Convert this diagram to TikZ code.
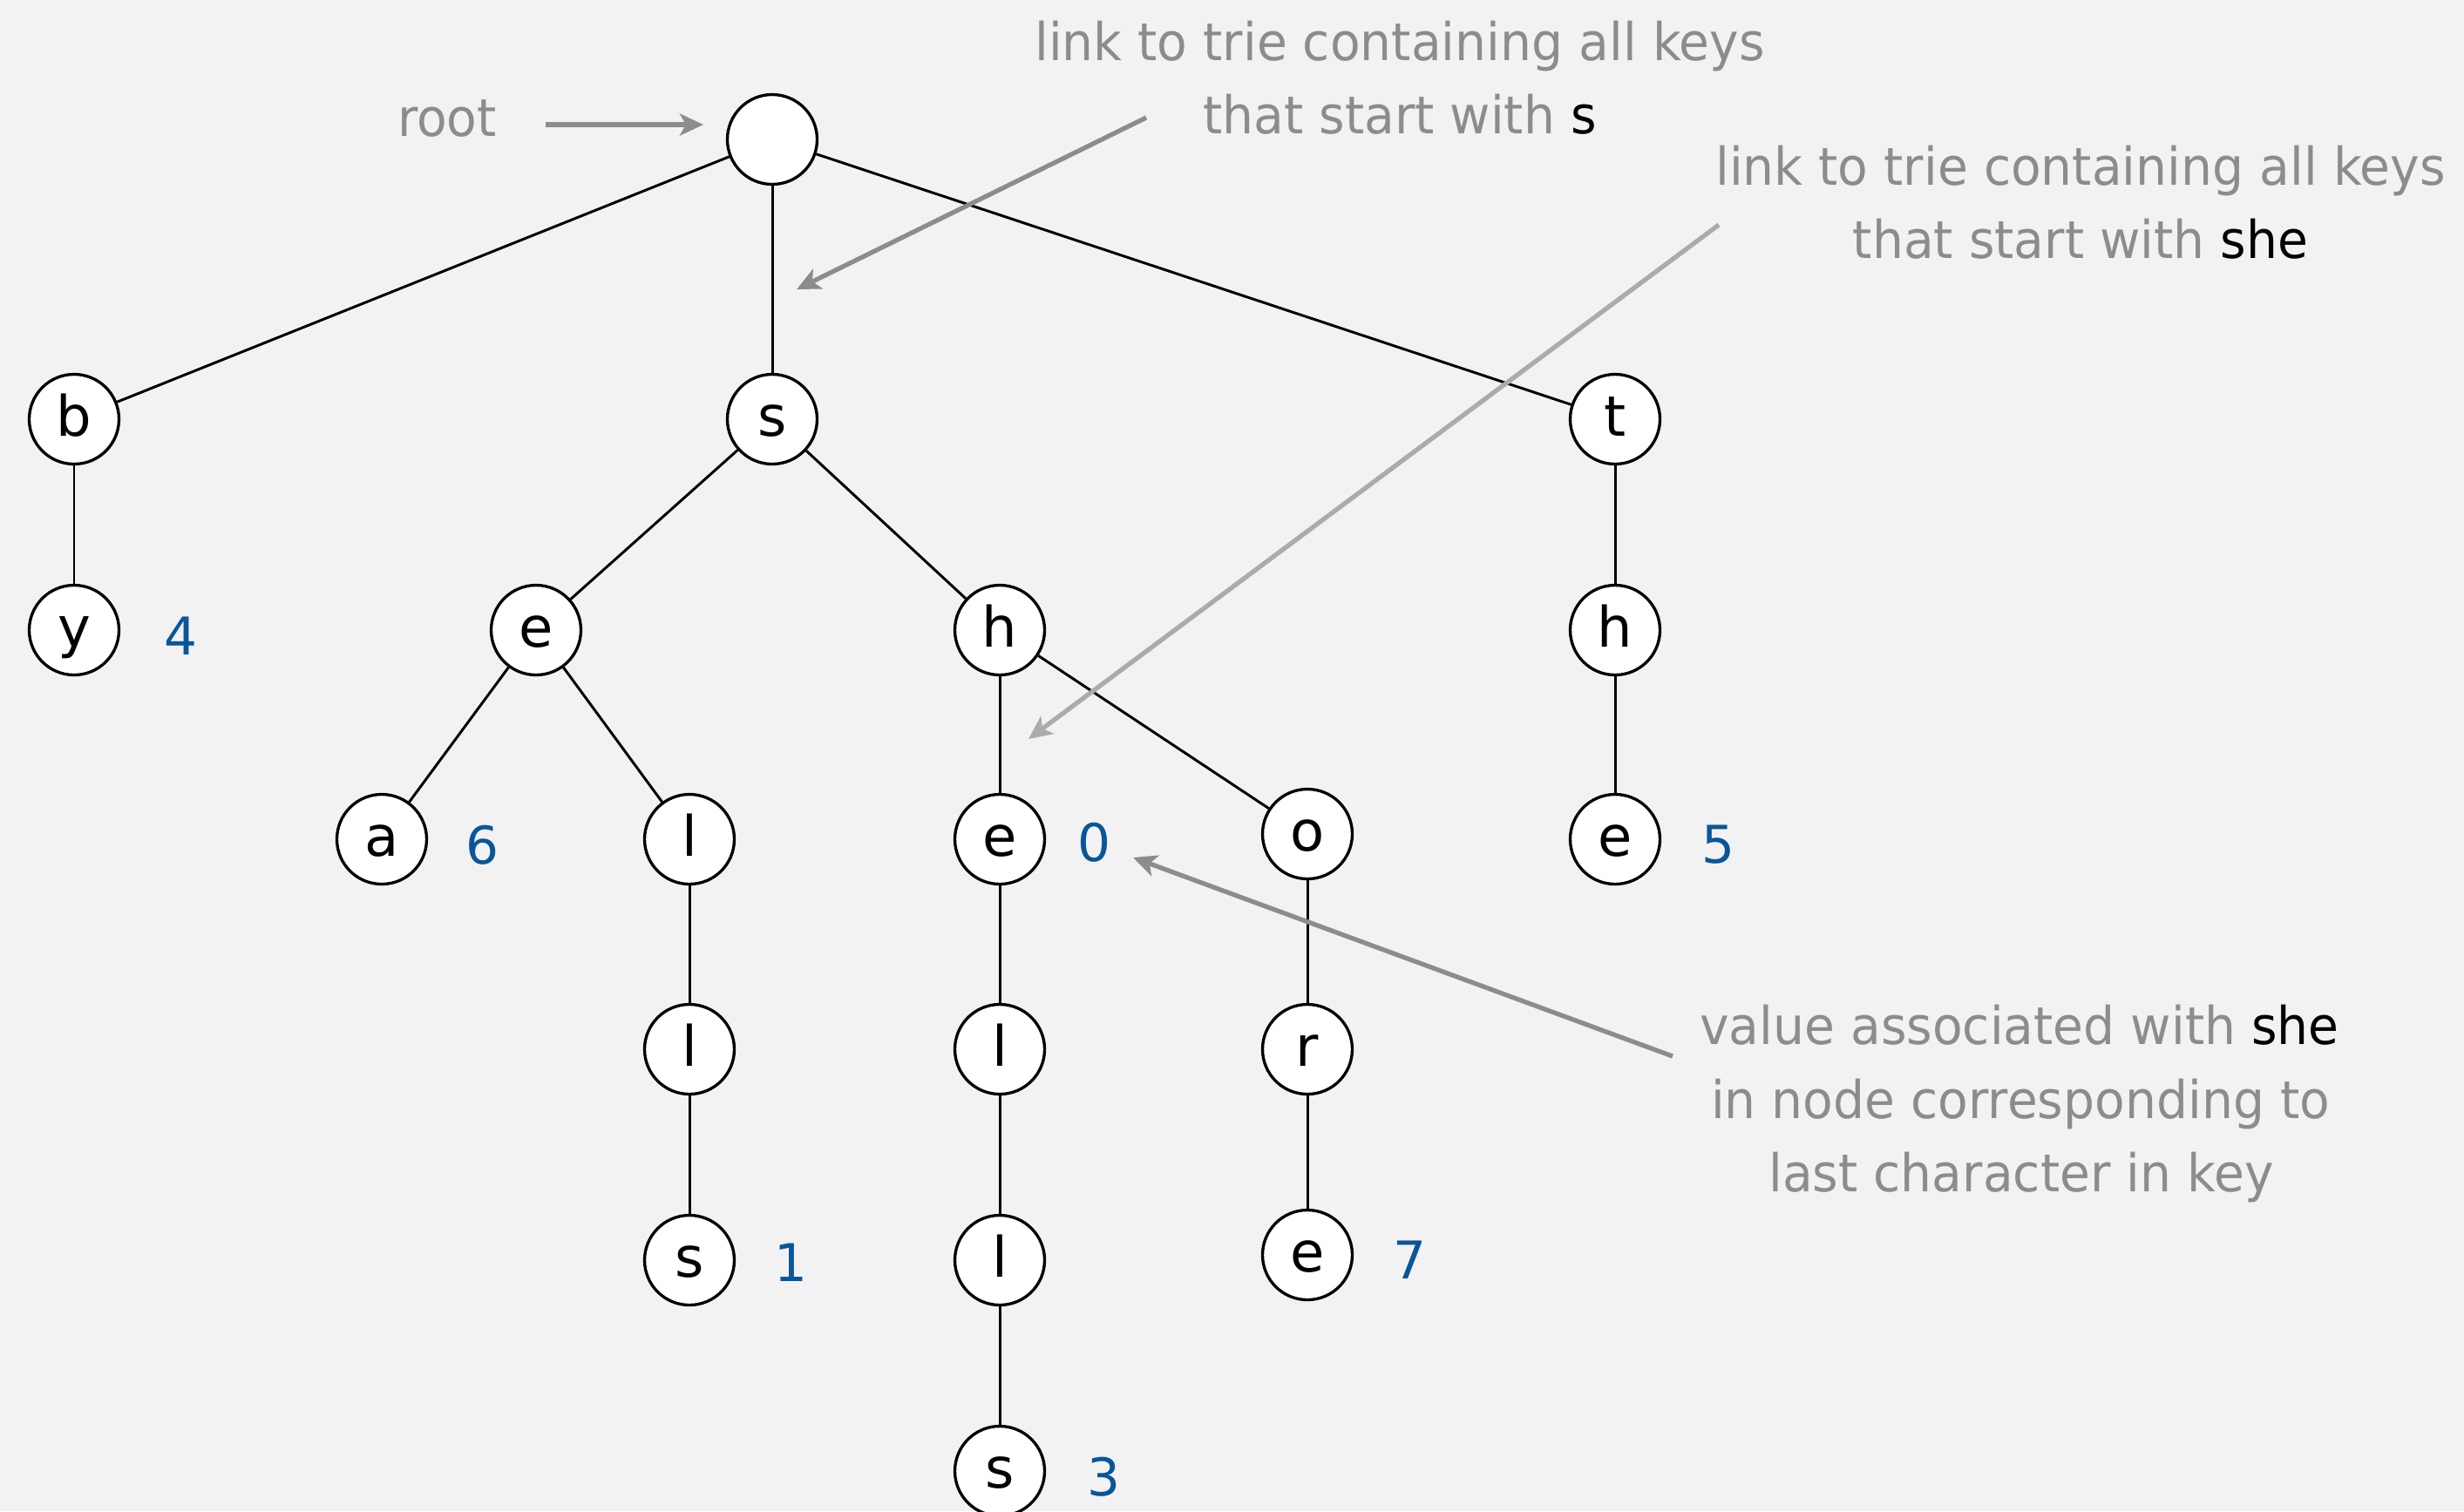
\documentclass[tikz,border=0pt]{standalone}
\usepackage{fontspec}
\setmainfont{DejaVu Sans}
\newfontfamily\annfont[FakeStretch=0.95]{DejaVu Sans}
\usetikzlibrary{arrows.meta}
\definecolor{bgcol}{HTML}{F2F2F2}
\definecolor{anngray}{HTML}{8C8C8C}
\definecolor{lightarrow}{HTML}{ABABAB}
\definecolor{valblue}{RGB}{8,86,152}
\begin{document}
\begin{tikzpicture}[x=1cm,y=1cm,
  trienode/.style={circle,draw=black,fill=white,line width=0.95pt,minimum size=1.03cm,inner sep=0pt,
    text height=0.48cm,text depth=0.10cm,font=\fontsize{18.2}{22}\selectfont},
  trieedge/.style={draw=black,line width=0.85pt},
  valtext/.style={anchor=base,inner sep=0pt,text=valblue,font=\fontsize{17}{20}\selectfont},
  anntext/.style={anchor=base,inner sep=0pt,text=anngray,font=\annfont\fontsize{17}{20}\selectfont},
  annarrow/.style={draw=anngray,line width=1.5pt,-{Stealth[length=0.27cm,width=0.25cm,inset=0.07cm]}},
  ]
\fill[bgcol] (0,0) rectangle (28.27,-17.34);
\useasboundingbox (0,0) rectangle (28.27,-17.34);

% tree nodes
\node[trienode] (root) at (8.86,-1.60) {};
\node[trienode] (b)  at (0.85,-4.81) {b};
\node[trienode] (s)  at (8.86,-4.81) {s};
\node[trienode] (t)  at (18.53,-4.81) {t};
\node[trienode] (y)  at (0.85,-7.23) {y};
\node[trienode] (se) at (6.15,-7.23) {e};
\node[trienode] (sh) at (11.47,-7.23) {h};
\node[trienode] (th) at (18.53,-7.23) {h};
\node[trienode] (sea) at (4.38,-9.63) {a};
\node[trienode] (sel) at (7.91,-9.63) {l};
\node[trienode] (she) at (11.47,-9.63) {e};
\node[trienode] (sho) at (15.00,-9.57) {o};
\node[trienode] (the) at (18.53,-9.63) {e};
\node[trienode] (sell) at (7.91,-12.04) {l};
\node[trienode] (shel) at (11.47,-12.04) {l};
\node[trienode] (shor) at (15.00,-12.04) {r};
\node[trienode] (sells) at (7.91,-14.46) {s};
\node[trienode] (shell) at (11.47,-14.46) {l};
\node[trienode] (shore) at (15.00,-14.40) {e};
\node[trienode] (shells) at (11.47,-16.88) {s};

% tree links
\draw[trieedge] (root) -- (b);
\draw[trieedge] (root) -- (s);
\draw[trieedge] (root) -- (t);
\draw[trieedge] (b) -- (y);
\draw[trieedge] (s) -- (se);
\draw[trieedge] (s) -- (sh);
\draw[trieedge] (t) -- (th);
\draw[trieedge] (th) -- (the);
\draw[trieedge] (se) -- (sea);
\draw[trieedge] (se) -- (sel);
\draw[trieedge] (sel) -- (sell);
\draw[trieedge] (sell) -- (sells);
\draw[trieedge] (sh) -- (she);
\draw[trieedge] (sh) -- (sho);
\draw[trieedge] (she) -- (shel);
\draw[trieedge] (shel) -- (shell);
\draw[trieedge] (shell) -- (shells);
\draw[trieedge] (sho) -- (shor);
\draw[trieedge] (shor) -- (shore);

% values
\node[valtext] (v4) at (2.08,-7.51) {4};
\node[valtext] (v6) at (5.53,-9.91) {6};
\node[valtext] (v0) at (12.55,-9.88) {0};
\node[valtext] (v5) at (19.71,-9.90) {5};
\node[valtext] (v1) at (9.07,-14.70) {1};
\node[valtext] (v7) at (16.17,-14.67) {7};
\node[valtext] (v3) at (12.66,-17.16) {3};

% annotations
\node[anntext] (rootlabel) at (5.13,-1.56) {root};
\node[anntext] (a1l1) at (16.06,-0.69) {link to trie containing all keys};
\node[anntext] (a1l2) at (16.06,-1.53) {that start with \textcolor{black}{s}};
\node[anntext] (a2l1) at (23.87,-2.12) {link to trie containing all keys};
\node[anntext] (a2l2) at (23.87,-2.96) {that start with \textcolor{black}{she}};
\node[anntext] (a3l1) at (23.17,-11.98) {value associated with \textcolor{black}{she}};
\node[anntext] (a3l2) at (23.18,-12.83) {in node corresponding to};
\node[anntext] (a3l3) at (23.19,-13.67) {last character in key};

% annotation arrows
\coordinate (rootfrom) at (6.26,-1.43);
\coordinate (rootto) at (8.07,-1.43);
\coordinate (sfrom) at (13.15,-1.35);
\coordinate (sto) at (9.14,-3.32);
\coordinate (shefrom) at (19.72,-2.58);
\coordinate (sheto) at (11.80,-8.48);
\coordinate (valfrom) at (19.19,-12.12);
\coordinate (valto) at (13.00,-9.84);
\draw[annarrow] (rootfrom) -- (rootto);
\draw[annarrow] (sfrom) -- (sto);
\draw[annarrow,draw=lightarrow] (shefrom) -- (sheto);
\draw[annarrow] (valfrom) -- (valto);
\end{tikzpicture}
\end{document}
